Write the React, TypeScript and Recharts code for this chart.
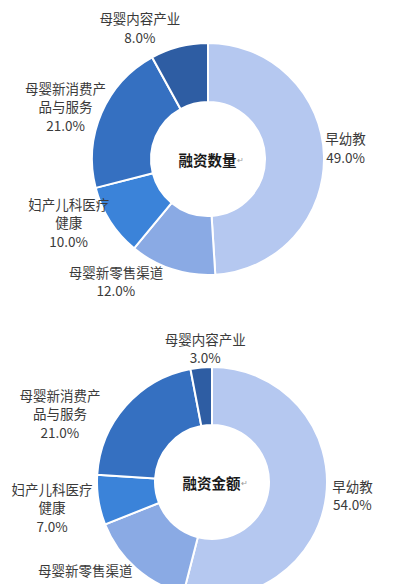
import React from 'react';
import { PieChart, Pie, Cell } from 'recharts';

// slice order runs clockwise from 12 o'clock
const categories = ['早幼教', '母婴新零售渠道', '妇产儿科医疗\n健康', '母婴新消费产\n品与服务', '母婴内容产业'];
const countShares = [49, 12, 10, 21, 8];
const amountShares = [54, 15, 7, 21, 3];
const colors = ['#b5c8f0', '#8aaae4', '#3b83d9', '#3570c1', '#2e5da3'];

// label placement: distance from centre and clockwise nudge off the slice's mid angle
const countLabelLayout = [
  { r: 138, shift: -3 },
  { r: 153, shift: 19 },
  { r: 153, shift: 8 },
  { r: 152, shift: -3 },
  { r: 148, shift: -13 },
];
const amountLabelLayout = [
  { r: 141, shift: -2 },
  { r: 160, shift: 11 },
  { r: 162, shift: 0 },
  { r: 167, shift: -17 },
  { r: 134, shift: 2.5 },
];

const RAD = Math.PI / 180;
const LINE_H = 18.5;
const FONT = '"Noto Sans CJK SC", "Noto Sans", sans-serif';

const toRows = (values: number[]) => categories.map((name, i) => ({ name, value: values[i] }));

// the first slice's label also carries the title in the hole
const makeLabel = (layout: { r: number; shift: number }[], title: string) => (props: any) => {
  const { cx, cy, midAngle, index, name, value } = props;
  const { r, shift } = layout[index];
  const a = (midAngle - shift) * RAD;
  const x = cx + r * Math.cos(a);
  const y = cy - r * Math.sin(a);
  const lines = [...String(name).split('\n'), `${Number(value).toFixed(1)}%`];
  const top = y - ((lines.length - 1) * LINE_H) / 2;
  return (
    <g>
      <text
        x={x}
        y={top}
        textAnchor="middle"
        dominantBaseline="central"
        fill="#3a3a3a"
        fontSize={13.5}
        fontFamily={FONT}
      >
        {lines.map((t, i) => (
          <tspan key={i} x={x} dy={i === 0 ? 0 : LINE_H}>
            {t}
          </tspan>
        ))}
      </text>
      {index === 0 && (
        <text x={cx + 3} y={cy} textAnchor="middle" dominantBaseline="central" fontFamily={FONT}>
          <tspan fontSize={14.5} fontWeight="bold" fill="#1a1a1a">
            {title}
          </tspan>
          <tspan fontSize={8} fill="#999999">
            ↵
          </tspan>
        </text>
      )}
    </g>
  );
};

export default function App() {
  return (
    <div style={{ position: 'absolute', left: 0, top: 0, width: 400, height: 584, background: '#ffffff' }}>
      <PieChart width={400} height={584}>
        <Pie
          data={toRows(countShares)}
          dataKey="value"
          nameKey="name"
          cx={203}
          cy={154}
          innerRadius={57}
          outerRadius={116}
          startAngle={90}
          endAngle={-270}
          stroke="#ffffff"
          strokeWidth={2}
          label={makeLabel(countLabelLayout, '融资数量')}
          labelLine={false}
          isAnimationActive={false}
        >
          {countShares.map((_, i) => (
            <Cell key={i} fill={colors[i]} />
          ))}
        </Pie>
        <Pie
          data={toRows(amountShares)}
          dataKey="value"
          nameKey="name"
          cx={207}
          cy={477}
          innerRadius={57}
          outerRadius={115}
          startAngle={90}
          endAngle={-270}
          stroke="#ffffff"
          strokeWidth={2}
          label={makeLabel(amountLabelLayout, '融资金额')}
          labelLine={false}
          isAnimationActive={false}
        >
          {amountShares.map((_, i) => (
            <Cell key={i} fill={colors[i]} />
          ))}
        </Pie>
      </PieChart>
    </div>
  );
}
